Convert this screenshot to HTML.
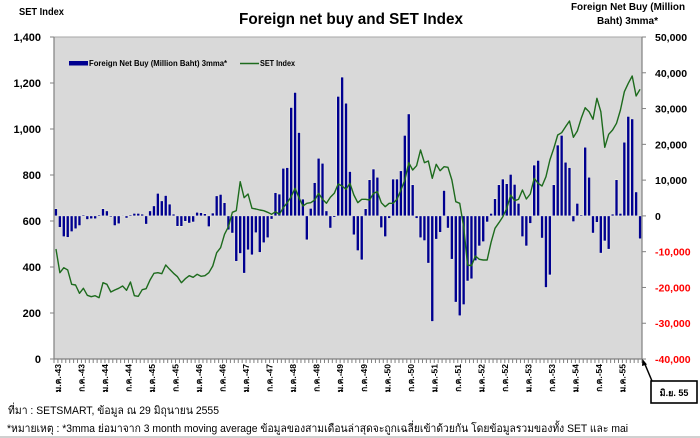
<!DOCTYPE html>
<html><head><meta charset="utf-8">
<style>
html,body{margin:0;padding:0;background:#fff;width:700px;height:438px;overflow:hidden;}
svg{display:block;}
text{font-family:"Liberation Sans","DejaVu Sans",sans-serif;}
</style></head><body>
<svg id="c" width="700" height="438" viewBox="0 0 700 438" xmlns="http://www.w3.org/2000/svg">
<rect x="54" y="37" width="588" height="322" fill="#d9d9d9" stroke="#a6a6a6" stroke-width="1"/>
<g id="bars"></g>
<polyline id="line" fill="none" stroke="#1d6b1d" stroke-width="1.4" stroke-linejoin="round"/>
<g id="ticks" stroke="#808080" stroke-width="1"></g>
<line x1="54" y1="37" x2="54" y2="359" stroke="#808080" stroke-width="1.2"/>
<line x1="642" y1="37" x2="642" y2="359" stroke="#808080" stroke-width="1.2"/>
<line x1="54" y1="359" x2="642" y2="359" stroke="#808080" stroke-width="1.2"/>
<g id="labels"></g>

<text x="19" y="15" font-size="10" font-weight="bold" textLength="45" lengthAdjust="spacingAndGlyphs">SET Index</text>
<text x="239" y="24" font-size="15.5" font-weight="bold" textLength="224" lengthAdjust="spacingAndGlyphs">Foreign net buy and SET Index</text>
<text x="571" y="10" font-size="10" font-weight="bold" textLength="114" lengthAdjust="spacingAndGlyphs">Foreign Net Buy (Million</text>
<text x="597" y="24" font-size="10" font-weight="bold" textLength="61" lengthAdjust="spacingAndGlyphs">Baht) 3mma*</text>

<rect x="69" y="61" width="19" height="4.5" fill="#000090"/>
<text x="89" y="66" font-size="8" font-weight="bold" textLength="138" lengthAdjust="spacingAndGlyphs">Foreign Net Buy (Million Baht)  3mma*</text>
<line x1="240" y1="63.5" x2="259" y2="63.5" stroke="#1d6b1d" stroke-width="1.4"/>
<text x="260" y="66" font-size="8" font-weight="bold" textLength="35" lengthAdjust="spacingAndGlyphs">SET Index</text>

<line x1="652" y1="381" x2="644" y2="362" stroke="#000" stroke-width="1.5"/>
<polygon points="642.5,359 647,364.5 642,366" fill="#000"/>
<rect x="651" y="381" width="46" height="22" fill="#fff" stroke="#000" stroke-width="1.6"/>
<text x="674" y="396" font-size="9" font-weight="bold" text-anchor="middle">มิ.ย. 55</text>

<text x="8" y="414" font-size="11" textLength="211" lengthAdjust="spacingAndGlyphs">ที่มา : SETSMART, ข้อมูล ณ 29 มิถุนายน 2555</text>
<text x="7" y="432" font-size="11" textLength="621" lengthAdjust="spacingAndGlyphs">*หมายเหตุ : *3mma ย่อมาจาก 3 month moving average ข้อมูลของสามเดือนล่าสุดจะถูกเฉลี่ยเข้าด้วยกัน  โดยข้อมูลรวมของทั้ง SET และ mai</text>
<line x1="0" y1="437" x2="700" y2="437" stroke="#a0a0a0" stroke-width="1"/>
</svg>
<script>
(function(){
var NS="http://www.w3.org/2000/svg";
function el(tag,attrs,parent,txt){var e=document.createElementNS(NS,tag);for(var k in attrs)e.setAttribute(k,attrs[k]);if(txt!==undefined)e.textContent=txt;parent.appendChild(e);return e;}
var bars=[2.0,-3.2,-5.8,-6.0,-4.4,-3.6,-2.7,0.3,-1.0,-0.8,-0.8,0.3,2.0,1.4,-0.3,-2.7,-2.2,0.2,-0.6,0.3,
0.7,0.7,0.5,-2.3,1.4,2.8,6.3,4.2,5.7,3.3,0.5,-2.9,-2.9,-1.5,-2.0,-1.7,1.0,0.9,0.6,-3.0,
0.8,5.6,6.0,3.7,-3.9,-4.8,-12.7,-10.5,-16.0,-9.5,-10.9,-4.7,-10.2,-7.5,-6.1,-0.9,6.5,6.1,13.3,13.5,
30.3,34.5,23.3,4.7,-6.7,2.1,9.3,16.1,14.7,1.4,-3.4,-0.4,33.4,38.8,31.5,12.4,-5.3,-9.7,-12.3,2.0,
10.1,13.1,10.8,-3.3,-5.8,-0.7,10.3,10.3,12.6,22.5,28.5,8.7,-0.7,-6.1,-6.9,-13.2,-29.5,-6.5,-4.6,7.1,
-3.4,-12.1,-24.1,-27.9,-24.8,-18.2,-17.6,-12.5,-8.4,-7.2,-1.7,0.7,4.8,8.7,10.3,9.0,11.6,8.8,3.5,-5.8,
-8.4,-2.1,14.2,15.5,-6.2,-20.0,-16.5,8.7,19.8,22.5,15.0,13.5,-1.6,3.5,0.3,19.2,10.8,-4.8,-1.8,-10.4,
-7.0,-9.3,0.5,10.1,0.7,20.6,27.8,27.1,6.7,-6.4];
var sety=[249,272.7,267.7,270,284.3,285,293.3,288.3,295.3,296.7,295.7,297.7,282.7,284.3,292,290,288.3,286,290.3,282,
295.7,296.3,289.7,288.7,280,273.3,272.7,273.7,265,269.3,273.3,276.7,282.7,278.7,275.7,277.3,274.3,276.3,275.7,272.7,
266,252.7,247.7,234.3,226.7,212.3,210.7,181.7,197.7,194,
208.3,209,210,210.7,212.3,214.3,211.7,214.3,207.7,202.7,196.7,188.3,197.7,206,203.3,202.7,200,193.3,199.3,203.3,
197.3,193.3,184,186,189.3,183.3,195,202.7,199.3,199.3,200,193.3,191.7,202.7,206.7,203.3,
203.3,199.3,190,180,162.7,170,165.7,150,162.7,161,178.3,164.3,170.7,166.7,167.3,180,201.7,203.3,226.7,265,
265.7,256,259.3,260,260,242.3,228.3,222.7,216.7,208.3,195,200.7,199.3,190,199,194,178.3,183.3,186,176.7,
160,148.3,135,132.7,126.7,121,137.3,131,118.3,107.7,111.7,119.3,98.3,111.7,147.3,134.3,130,123.3,110,91.7,83.3,76,96,89.3];
var step=3.92, y0=215.9, k=3.578;
var bg=document.getElementById('bars');
for(var i=0;i<bars.length;i++){
  var v=bars[i], h=Math.abs(v)*k; if(h<0.6)h=0.6;
  var x=54+i*step+0.5;
  var y=v>=0?y0-h:y0;
  el('rect',{x:x.toFixed(2),y:y.toFixed(2),width:2.9,height:h.toFixed(2),fill:'#000090',stroke:'#f4f4e4','stroke-width':0.5},bg);
}
var pts=[];
for(var i=0;i<sety.length;i++){pts.push((54+(i+0.5)*step).toFixed(2)+','+sety[i]);}
document.getElementById('line').setAttribute('points',pts.join(' '));
var tg=document.getElementById('ticks');
for(var j=0;j<=150;j++){var tx=(54+j*step).toFixed(2);el('line',{x1:tx,y1:359,x2:tx,y2:363},tg);}
var lg=document.getElementById('labels');
for(var j=0;j<=7;j++){var ty=359-j*46;el('line',{x1:50,y1:ty,x2:54,y2:ty},tg);
  var s=(j*200); s=s>=1000?(Math.floor(s/1000)+','+String(s%1000).padStart(3,'0')):String(s);
  el('text',{x:41,y:ty+4,'font-size':11,'font-weight':'bold','text-anchor':'end'},lg,s);}
for(var j=0;j<=9;j++){var val=50000-j*10000;var ty=37+j*35.78;el('line',{x1:642,y1:ty,x2:646,y2:ty},tg);
  var a=Math.abs(val);var s=a===0?'0':(Math.floor(a/1000)+',000');if(val<0)s='-'+s;
  el('text',{x:655,y:(ty+4).toFixed(1),'font-size':10.5,'font-weight':'bold',fill:val<0?'#ff0000':'#000'},lg,s);}
for(var m=0;m<25;m++){
  var yr=43+Math.floor(m/2); var lab=(m%2===0?'ม.ค.-':'ก.ค.-')+yr;
  var cx=58+m*6*step;
  el('text',{transform:'translate('+(cx+3).toFixed(2)+',364) rotate(-90)','font-size':8.5,'font-weight':'bold','text-anchor':'end'},lg,lab);
}
})();
</script>
</body></html>
